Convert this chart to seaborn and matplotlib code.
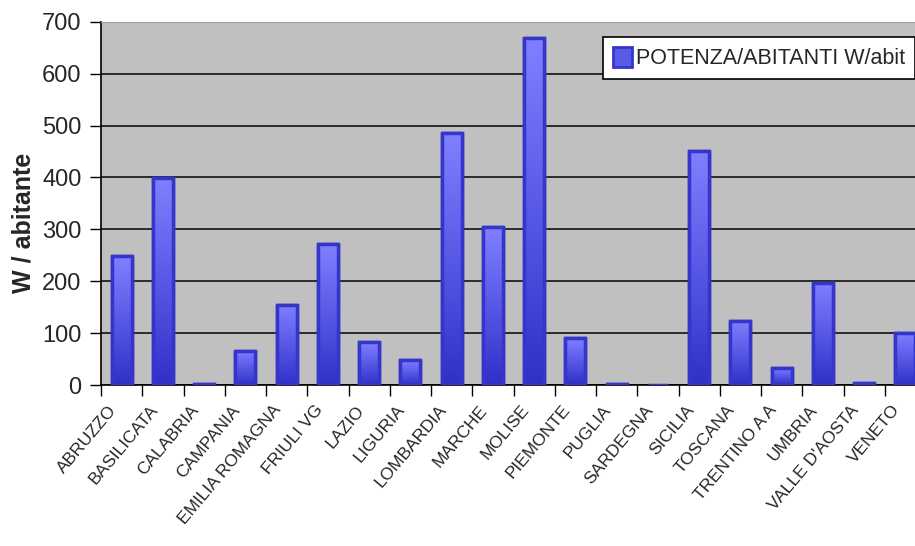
import numpy as np
import pandas as pd
import matplotlib
matplotlib.use("Agg")
import matplotlib.pyplot as plt
import matplotlib.transforms as mtransforms
import seaborn as sns
from matplotlib.colors import LinearSegmentedColormap
from matplotlib.patches import Patch

regions = ["ABRUZZO", "BASILICATA", "CALABRIA", "CAMPANIA", "EMILIA ROMAGNA",
           "FRIULI VG", "LAZIO", "LIGURIA", "LOMBARDIA", "MARCHE", "MOLISE",
           "PIEMONTE", "PUGLIA", "SARDEGNA", "SICILIA", "TOSCANA", "TRENTINO A A",
           "UMBRIA", "VALLE D'AOSTA", "VENETO"]
values = [248, 399, 2, 66, 155, 271, 82, 48, 485, 304, 668, 90, 2, 0, 451,
          124, 33, 197, 3, 101]
y_ticks = [0, 100, 200, 300, 400, 500, 600, 700]
series_name = "POTENZA/ABITANTI W/abit"
y_label = "W / abitante"

df = pd.DataFrame({"regione": regions, "valore": values})

sns.set_style("white")
plt.rcParams["font.family"] = ["Liberation Sans", "DejaVu Sans"]

fig = plt.figure(figsize=(9.15, 5.46), dpi=100)
ax = fig.add_axes([101 / 915, 1 - 385 / 546, 825 / 915, (385 - 21.7) / 546])
ax.set_facecolor("#c0c0c0")

sns.barplot(data=df, x="regione", y="valore", ax=ax, width=0.48,
            color="#5a5ae8", edgecolor="#3535cc", linewidth=2.5, zorder=3)

cmap = LinearSegmentedColormap.from_list("g", ["#3030c8", "#5858e6", "#8080ff"])
grad = np.linspace(0, 1, 256).reshape(-1, 1)
for p in list(ax.patches):
    x0, y0 = p.get_x(), p.get_y()
    w, h = p.get_width(), p.get_height()
    if h <= 0:
        continue
    im = ax.imshow(grad, cmap=cmap, origin="lower", aspect="auto",
                   extent=(x0, x0 + w, y0, y0 + h), zorder=3.5)
    im.set_clip_path(p)
    edge = plt.Rectangle((x0, y0), w, h, fill=False, edgecolor="#3535cc",
                         linewidth=2.5, zorder=4, joinstyle="round")
    ax.add_patch(edge)

ax.set_xlim(-0.5, len(regions) - 0.5)
ax.set_ylim(0, 700)
ax.set_yticks(y_ticks)
ax.yaxis.grid(True, color="#111111", linewidth=1.2, zorder=1)
ax.set_axisbelow(True)

ax.set_xticks(np.arange(len(regions)))
ax.set_xticklabels(regions, rotation=50, ha="right", va="center",
                   rotation_mode="anchor", fontsize=12.5)
ax.tick_params(axis="x", length=0, pad=16)
shift = mtransforms.ScaledTranslation(-8 / 100, 0, fig.dpi_scale_trans)
for t in ax.get_xticklabels():
    t.set_transform(t.get_transform() + shift)
ax.set_xticks(np.arange(len(regions) + 1) - 0.5, minor=True)
ax.tick_params(axis="x", which="minor", length=8, width=1, color="black",
               direction="out", bottom=True)
ax.tick_params(axis="y", length=8, width=1, color="black", direction="out",
               left=True, labelsize=17, pad=6)

ax.set_xlabel("")
ax.set_ylabel(y_label, fontsize=18, fontweight="bold")
ax.yaxis.set_label_coords(-0.08, 0.446)

for s in ["left", "bottom"]:
    ax.spines[s].set_color("black")
    ax.spines[s].set_linewidth(1.2)
ax.spines["top"].set_color("#a0a0a0")
ax.spines["right"].set_visible(False)

handle = Patch(facecolor="#5a5ae8", edgecolor="#3535cc", linewidth=2)
leg = fig.legend([handle], [series_name], loc="upper left",
                 bbox_to_anchor=(603 / 915, 1 - 37 / 546),
                 bbox_transform=fig.transFigure, fontsize=15.5,
                 frameon=True, fancybox=False, borderaxespad=0,
                 borderpad=0.45, handlelength=0.9, handleheight=1.1,
                 handletextpad=0.2)
leg.get_frame().set_edgecolor("black")
leg.get_frame().set_linewidth(1.2)
leg.get_frame().set_facecolor("white")
leg.get_frame().set_alpha(1)

fig.savefig("out.png", dpi=100)
